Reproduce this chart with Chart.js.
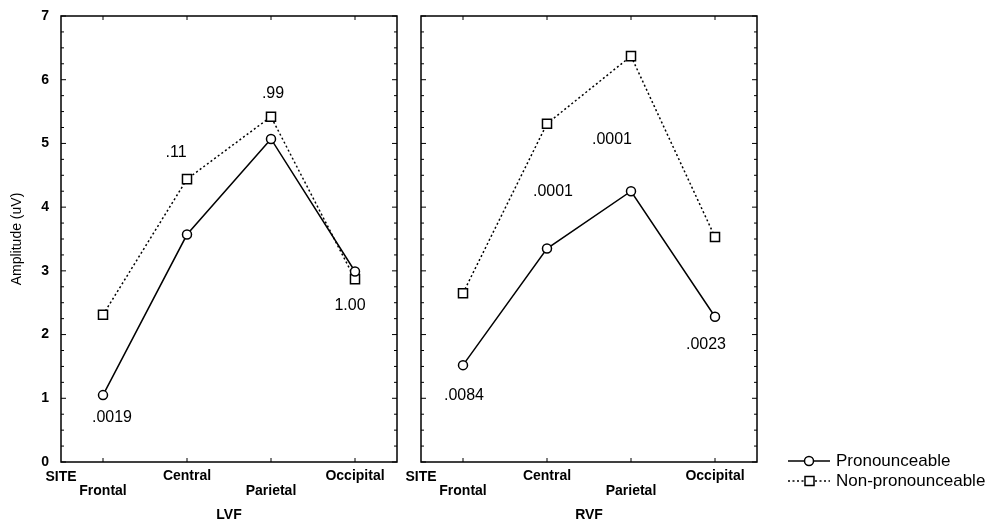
<!DOCTYPE html>
<html>
<head>
<meta charset="utf-8">
<script src="https://cdn.jsdelivr.net/npm/chart.js@4.4.1/dist/chart.umd.min.js"></script>
<style>
  body { margin: 0; background: #fff; }
  #lvf { position: absolute; left: 0; top: 0; }
  #rvf { position: absolute; left: 405px; top: 0; }
</style>
</head>
<body>
<canvas id="lvf" width="405" height="524"></canvas>
<canvas id="rvf" width="594" height="524"></canvas>
<script>
// amplitude (uV) per recording site
var sites = ["Frontal", "Central", "Parietal", "Occipital"];
var siteLabels = [["", "Frontal"], ["Central"], ["", "Parietal"], ["Occipital"]];
var yTicks = [0, 1, 2, 3, 4, 5, 6, 7];

var lvfPron = [1.05, 3.57, 5.07, 2.99];
var lvfNon  = [2.31, 4.44, 5.42, 2.87];
var rvfPron = [1.52, 3.35, 4.25, 2.28];
var rvfNon  = [2.65, 5.31, 6.37, 3.53];

// p values written in the panels (text, height in uV, nudge in px from the site)
var lvfP   = [".0019", ".11", ".99", "1.00"];
var lvfPY  = [0.69, 4.86, 5.78, 2.45];
var lvfPdx = [9, -11, 2, -5];
var rvfP   = [".0084", ".0001", ".0001", ".0023"];
var rvfPY  = [1.04, 4.24, 5.06, 1.84];
var rvfPdx = [1, 6, -19, -9];

var FONT = "'Liberation Sans', Arial, sans-serif";
Chart.defaults.font.family = FONT;
Chart.defaults.color = "#000";

var panelPlugin = {
  id: "panel",
  afterDraw: function (chart, args, opts) {
    var ctx = chart.ctx, a = chart.chartArea;
    var xs = chart.scales.x, ys = chart.scales.y;
    ctx.save();
    ctx.setLineDash([]);
    ctx.strokeStyle = "#000";
    ctx.lineWidth = 1.5;
    ctx.strokeRect(a.left, a.top, a.right - a.left, a.bottom - a.top);
    ctx.lineWidth = 1;
    ctx.beginPath();
    for (var v = 0; v <= 7; v += 0.25) {
      var py = ys.getPixelForValue(v);
      var len = v % 1 === 0 ? 5 : 3;
      ctx.moveTo(a.left, py); ctx.lineTo(a.left + len, py);
      ctx.moveTo(a.right, py); ctx.lineTo(a.right - len, py);
    }
    for (var i = 0; i < sites.length; i++) {
      var px = xs.getPixelForValue(i);
      ctx.moveTo(px, a.top); ctx.lineTo(px, a.top + 4);
      ctx.moveTo(px, a.bottom); ctx.lineTo(px, a.bottom - 4);
    }
    ctx.stroke();

    ctx.fillStyle = "#000";
    ctx.textAlign = "center";
    ctx.textBaseline = "middle";
    ctx.font = "bold 14px " + FONT;
    ctx.fillText("SITE", a.left, a.bottom + 15);

    ctx.font = "16px " + FONT;
    for (var j = 0; j < opts.text.length; j++) {
      ctx.fillText(opts.text[j], xs.getPixelForValue(j) + opts.dx[j], ys.getPixelForValue(opts.y[j]));
    }
    ctx.restore();
  }
};

var legendPlugin = {
  id: "sideLegend",
  afterDraw: function (chart) {
    var ctx = chart.ctx, r = chart.chartArea.right;
    var rows = [461, 481];
    ctx.save();
    chart.data.datasets.forEach(function (ds, k) {
      var y = rows[k];
      ctx.strokeStyle = "#000";
      ctx.lineWidth = 1.5;
      ctx.setLineDash(ds.borderDash || []);
      ctx.beginPath();
      ctx.moveTo(r + 31, y); ctx.lineTo(r + 73, y);
      ctx.stroke();
      ctx.setLineDash([]);
      ctx.fillStyle = "#fff";
      ctx.beginPath();
      if (ds.pointStyle === "rect") ctx.rect(r + 48, y - 4.5, 9, 9);
      else ctx.arc(r + 52, y, 4.5, 0, Math.PI * 2);
      ctx.fill(); ctx.stroke();
      ctx.fillStyle = "#000";
      ctx.font = "17px " + FONT;
      ctx.textAlign = "left";
      ctx.textBaseline = "middle";
      ctx.fillText(ds.label, r + 79, y);
    });
    ctx.restore();
  }
};

function makePanel(id, pron, non, title, pText, pY, pDx, showY, pad, extra) {
  return new Chart(id, {
    type: "line",
    data: {
      labels: siteLabels,
      datasets: [{
        label: "Pronounceable",
        data: pron,
        borderColor: "#000",
        borderWidth: 1.5,
        pointStyle: "circle",
        pointRadius: 4.5,
        pointBackgroundColor: "#fff",
        pointBorderColor: "#000",
        pointBorderWidth: 1.5,
        tension: 0
      }, {
        label: "Non-pronounceable",
        data: non,
        borderColor: "#000",
        borderWidth: 1.5,
        borderDash: [2, 2.5],
        pointStyle: "rect",
        pointRadius: 6.4,
        pointBackgroundColor: "#fff",
        pointBorderColor: "#000",
        pointBorderWidth: 1.5,
        tension: 0
      }]
    },
    options: {
      responsive: false,
      animation: false,
      devicePixelRatio: 1,
      layout: { padding: pad },
      plugins: {
        legend: { display: false },
        tooltip: { enabled: false },
        panel: { text: pText, y: pY, dx: pDx }
      },
      scales: {
        x: {
          offset: true,
          grid: { display: false, drawTicks: false },
          border: { display: false },
          ticks: { font: { size: 14, weight: "bold", lineHeight: 1.07 }, padding: 7, maxRotation: 0, autoSkip: false },
          title: { display: true, text: title, font: { size: 14, weight: "bold" }, padding: 0 },
          afterFit: function (s) { s.height = 62; s.paddingLeft = 0; s.paddingRight = 0; }
        },
        y: {
          display: showY,
          min: 0,
          max: 7,
          afterBuildTicks: function (s) { s.ticks = yTicks.map(function (v) { return { value: v }; }); },
          grid: { display: false, drawTicks: false },
          border: { display: false },
          ticks: { font: { size: 14, weight: "bold" }, padding: 12 },
          title: { display: true, text: "Amplitude (uV)", font: { size: 14 }, padding: { top: 9, bottom: 0 } },
          afterFit: function (s) { s.width = showY ? 61 : 0; s.paddingTop = 0; s.paddingBottom = 0; }
        }
      }
    },
    plugins: [panelPlugin].concat(extra)
  });
}

makePanel("lvf", lvfPron, lvfNon, "LVF", lvfP, lvfPY, lvfPdx, true,
  { top: 16, right: 8, left: 0, bottom: 0 }, []);
makePanel("rvf", rvfPron, rvfNon, "RVF", rvfP, rvfPY, rvfPdx, false,
  { top: 16, right: 242, left: 16, bottom: 0 }, [legendPlugin]);
</script>
</body>
</html>
